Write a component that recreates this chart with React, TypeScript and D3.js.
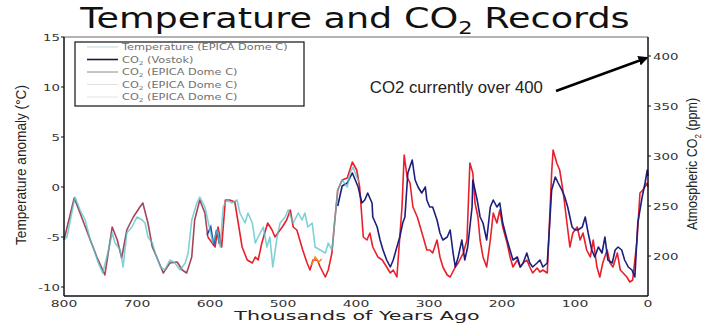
import * as d3 from "d3";

const width = 706;
const height = 323;
const plot = { left: 64, right: 648, top: 37, bottom: 296 };
// the source picture is stretched sideways, so texts get a wider x scale
const stretch = 1.33;

type Pt = [number, number]; // [thousand years ago, value]

const ageTicks = [800, 700, 600, 500, 400, 300, 200, 100, 0];
const tempTicks = [15, 10, 5, 0, -5, -10];
const co2Ticks = [200, 250, 300, 350, 400];

// temperature anomaly (°C), EPICA Dome C
const tempEpica: Pt[] = [
  [800, -5.3], [796, -5.0], [785, -1.0], [778, -2.3], [771, -3.3], [764, -5.3], [760, -6.0],
  [753, -7.6], [747, -8.6], [740, -6.6], [734, -4.6], [730, -5.6], [723, -6.3], [719, -8.0],
  [714, -4.6], [707, -4.0], [700, -3.0], [693, -3.3], [689, -3.6], [685, -5.0], [679, -5.6],
  [675, -6.6], [668, -8.0], [662, -8.3], [655, -7.3], [648, -7.6], [641, -8.3], [634, -7.6],
  [630, -6.6], [625, -3.3], [618, -1.6], [614, -1.0], [607, -2.0], [600, -4.3], [596, -5.6],
  [590, -4.3], [586, -6.0], [582, -2.0], [577, -1.3], [570, -1.6], [563, -1.3], [559, -2.6],
  [552, -3.6], [548, -2.6], [542, -3.6], [538, -5.6], [534, -5.0], [527, -4.0], [522, -6.0],
  [518, -5.0], [514, -8.0], [508, -5.0], [504, -3.6], [497, -3.0], [493, -2.3], [486, -3.6],
  [479, -2.6], [474, -3.3], [470, -2.6], [466, -4.0], [460, -3.6], [456, -6.0], [449, -6.3],
  [442, -6.6], [438, -5.6], [433, -6.3], [429, -3.3], [425, -0.3], [419, 0.7], [412, 0.0],
  [408, 1.4], [404, 2.0], [399, 1.0], [395, 0.4],
];

// CO2 (ppm), Vostok
const co2Vostok: Pt[] = [
  [425, 250], [419, 270], [412, 273], [405, 283], [401, 276], [397, 269], [392, 253], [388, 256],
  [384, 263], [378, 253], [377, 239], [371, 229], [367, 216], [363, 206], [358, 196], [353, 189],
  [349, 196], [344, 209], [340, 219], [336, 233], [333, 239], [329, 283], [323, 296], [319, 276],
  [315, 269], [310, 263], [305, 269], [303, 256], [299, 249], [295, 249], [289, 236], [285, 223],
  [281, 216], [275, 219], [271, 226], [267, 203], [264, 189], [260, 199], [255, 216], [251, 196],
  [247, 209], [241, 249], [240, 276], [234, 256], [230, 239], [226, 233], [221, 216], [216, 249],
  [212, 256], [207, 249], [203, 253], [199, 233], [193, 216], [189, 206], [185, 196], [179, 199],
  [175, 189], [171, 193], [166, 203], [162, 193], [158, 189], [152, 193], [148, 196], [144, 189],
  [138, 193], [136, 216], [132, 266], [127, 279], [123, 273], [118, 266], [114, 259], [110, 249],
  [104, 229], [100, 226], [96, 226], [90, 229], [86, 239], [82, 223], [77, 206], [73, 199],
  [68, 209], [63, 203], [59, 219], [55, 196], [49, 193], [45, 206], [41, 209], [36, 206],
  [32, 196], [27, 189], [22, 186], [18, 179], [14, 233], [8, 259], [4, 273], [1, 286], [0, 280],
];

// CO2 (ppm), EPICA Dome C, older record (muted colour in the picture)
const co2EpicaOld: Pt[] = [
  [800, 216], [786, 258], [778, 243], [764, 216], [755, 199], [744, 181], [734, 229], [727, 216],
  [721, 198], [714, 226], [705, 239], [696, 249], [692, 253], [685, 233], [679, 209], [673, 199],
  [664, 183], [655, 193], [645, 194], [638, 186], [632, 183], [625, 199], [621, 236], [614, 256],
  [607, 243], [603, 219],
];

// CO2 (ppm), EPICA Dome C
const co2Epica: Pt[] = [
  [603, 219], [600, 216], [593, 209], [589, 229], [584, 209], [579, 256], [573, 256],
  [566, 254], [562, 236], [556, 209], [549, 196], [542, 193], [538, 199], [534, 196], [529, 213],
  [525, 223], [521, 233], [515, 226], [511, 219], [507, 223], [501, 229], [495, 236], [490, 246],
  [486, 229], [481, 226], [477, 216], [473, 206], [467, 193], [463, 186], [459, 196], [453, 196],
  [449, 189], [442, 179], [438, 186], [433, 203], [429, 236], [425, 266], [419, 276], [412, 278],
  [405, 294], [399, 286], [395, 269], [392, 239], [390, 219], [385, 216], [381, 223], [377, 209],
  [370, 199], [364, 196], [358, 189], [353, 183], [349, 186], [344, 179], [337, 249], [334, 301],
  [330, 279], [326, 273], [322, 249], [316, 239], [312, 229], [308, 219], [303, 206], [299, 206],
  [295, 203], [289, 216], [285, 199], [281, 189], [275, 181], [271, 179], [264, 189], [260, 193],
  [253, 203], [248, 216], [244, 293], [240, 283], [237, 253], [233, 239], [230, 216], [226, 199],
  [221, 189], [216, 216], [212, 243], [207, 233], [203, 246], [199, 229], [193, 213], [189, 199],
  [185, 189], [179, 196], [175, 189], [171, 193], [166, 196], [162, 189], [158, 183], [152, 188],
  [148, 184], [144, 186], [138, 183], [136, 216], [132, 283], [130, 306], [125, 293], [121, 286],
  [116, 263], [111, 233], [107, 209], [103, 223], [97, 229], [93, 216], [89, 223], [84, 206],
  [79, 199], [75, 216], [70, 189], [66, 179], [62, 193], [56, 206], [52, 193], [48, 189],
  [42, 203], [38, 186], [34, 183], [29, 179], [25, 174], [21, 176], [15, 216], [11, 263],
  [7, 266], [1, 273], [0, 269],
];

// two short extra EPICA CO2 pieces
const co2EpicaBlue: Pt[] = [[604, 221], [599, 229], [595, 211], [591, 226], [587, 212]];
const co2EpicaOrange: Pt[] = [[461, 191], [456, 199], [451, 194], [447, 197]];

const legendLabels = [
  "Temperature (EPICA Dome C)",
  "CO2 (Vostok)",
  "CO2 (EPICA Dome C)",
  "CO2 (EPICA Dome C)",
  "CO2 (EPICA Dome C)",
];
const legendColors = ["#c3dde3", "#1b1b40", "#8a8a8a", "#e0e0e0", "#e4e4e4"];
const legendWidths = [1.2, 1.6, 1, 1, 1];

const noteText = "CO2 currently over 400";
const noteAt: Pt = [381, 363];
const arrowFrom: Pt = [126, 365];
const arrowTo: Pt = [2, 398];

const x = d3.scaleLinear().domain([800, 0]).range([plot.left, plot.right]);
const yT = d3.scaleLinear().domain([-10.9, 15]).range([plot.bottom, plot.top]);
const yC = d3.scaleLinear().domain([160, 419]).range([plot.bottom, plot.top]);

const tempLine = d3.line<Pt>().x(d => x(d[0])).y(d => yT(d[1]));
const co2Line = d3.line<Pt>().x(d => x(d[0])).y(d => yC(d[1]));

type STextProps = {
  x: number;
  y: number;
  size: number;
  anchor?: "start" | "middle" | "end";
  fill?: string;
  sx?: number;
  children: React.ReactNode;
};

const SText = ({ x, y, size, anchor = "middle", fill = "#222", sx = stretch, children }: STextProps) => (
  <g transform={`translate(${x},${y}) scale(${sx},1)`}>
    <text textAnchor={anchor} fontSize={size} fill={fill} fontFamily="DejaVu Sans">
      {children}
    </text>
  </g>
);

// "CO2 ..." -> CO with subscript 2
const withSub = (label: string, size: number) => {
  if (!label.startsWith("CO2")) return label;
  return (
    <>
      CO<tspan fontSize={size * 0.65} dy={size * 0.25}>2</tspan>
      <tspan dy={-size * 0.25}>{label.slice(3)}</tspan>
    </>
  );
};

const App = () => {
  const [ax, ay] = [x(arrowFrom[0]), yC(arrowFrom[1])];
  const [bx, by] = [x(arrowTo[0]), yC(arrowTo[1])];

  return (
    <svg
      width={width}
      height={height}
      style={{ position: "absolute", left: 0, top: 0, background: "#fff" }}
    >
      <defs>
        <marker id="head" viewBox="0 0 10 10" refX="8" refY="5" markerWidth="4" markerHeight="4" orient="auto">
          <path d="M0,0L10,5L0,10z" fill="#000" />
        </marker>
      </defs>

      <SText x={355} y={28} size={27.5} fill="#111">
        Temperature and CO<tspan fontSize={17} dy={6}>2</tspan>
        <tspan dy={-6}> Records</tspan>
      </SText>

      {/* series */}
      <path d={co2Line(co2EpicaOld) ?? ""} fill="none" stroke="#a4465a" strokeWidth={1.6} strokeLinejoin="round" />
      <path d={co2Line(co2Epica) ?? ""} fill="none" stroke="#e8202c" strokeWidth={1.6} strokeLinejoin="round" />
      <path d={co2Line(co2EpicaBlue) ?? ""} fill="none" stroke="#2a3fa8" strokeWidth={1.6} />
      <path d={co2Line(co2EpicaOrange) ?? ""} fill="none" stroke="#f08a24" strokeWidth={1.6} />
      <path d={co2Line(co2Vostok) ?? ""} fill="none" stroke="#1e1e7c" strokeWidth={1.6} strokeLinejoin="round" />
      <path d={tempLine(tempEpica) ?? ""} fill="none" stroke="#55c2c8" strokeWidth={1.6} strokeOpacity={0.75} strokeLinejoin="round" />

      {/* frame */}
      <line x1={plot.left} x2={plot.right} y1={plot.top} y2={plot.top} stroke="#9a9a9a" strokeWidth={1.5} />
      <line x1={plot.left} x2={plot.left} y1={plot.top} y2={plot.bottom} stroke="#111" strokeWidth={1.5} />
      <line x1={plot.right} x2={plot.right} y1={plot.top} y2={plot.bottom} stroke="#111" strokeWidth={1.5} />
      <line x1={plot.left} x2={plot.right} y1={plot.bottom} y2={plot.bottom} stroke="#111" strokeWidth={1.5} />

      {/* left axis */}
      {tempTicks.map(t => (
        <g key={"t" + t}>
          <line x1={plot.left - 3} x2={plot.left} y1={yT(t)} y2={yT(t)} stroke="#111" />
          <SText x={plot.left - 4} y={yT(t) + 4} size={9.5} anchor="end" fill="#333" sx={1.4}>{t}</SText>
        </g>
      ))}
      {/* bottom axis */}
      {ageTicks.map(t => (
        <SText key={"a" + t} x={x(t)} y={307} size={9} fill="#333" sx={1.55}>{t}</SText>
      ))}
      {/* right axis */}
      {co2Ticks.map(t => (
        <g key={"c" + t}>
          <line x1={plot.right} x2={plot.right + 3} y1={yC(t)} y2={yC(t)} stroke="#111" />
          <SText x={plot.right + 5} y={yC(t) + 4} size={9.5} anchor="start" fill="#333" sx={1.4}>{t}</SText>
        </g>
      ))}

      <SText x={357} y={320} size={12.5} fill="#222" sx={1.65}>Thousands of Years Ago</SText>

      <g transform="translate(26,165) rotate(-90) scale(1,1.2)">
        <text textAnchor="middle" fontSize={12.5} fontFamily="Liberation Sans" fill="#222" textLength={160} lengthAdjust="spacingAndGlyphs">
          Temperature anomaly (°C)
        </text>
      </g>
      <g transform="translate(697,164) rotate(-90) scale(1,1.2)">
        <text textAnchor="middle" fontSize={12.5} fontFamily="Liberation Sans" fill="#222">
          Atmospheric CO<tspan fontSize={8} dy={3}>2</tspan>
          <tspan dy={-3}> (ppm)</tspan>
        </text>
      </g>

      {/* legend */}
      <rect x={75} y={42} width={229} height={64} fill="#fff" stroke="#111" strokeWidth={1.2} />
      {legendLabels.map((l, i) => {
        const ly = 47 + i * 12.5;
        return (
          <g key={"l" + i}>
            <line x1={87} x2={118} y1={ly} y2={ly} stroke={legendColors[i]} strokeWidth={legendWidths[i]} />
            <SText x={122} y={ly + 3} size={8.5} anchor="start" fill="#707070">{withSub(l, 8.5)}</SText>
          </g>
        );
      })}

      {/* annotation */}
      <text x={x(noteAt[0])} y={yC(noteAt[1])} fontSize={16} fontFamily="Liberation Sans" fill="#222" textLength={173} lengthAdjust="spacingAndGlyphs">
        {noteText}
      </text>
      <line x1={ax} y1={ay} x2={bx} y2={by} stroke="#000" strokeWidth={2.5} markerEnd="url(#head)" />
    </svg>
  );
};

export default App;
